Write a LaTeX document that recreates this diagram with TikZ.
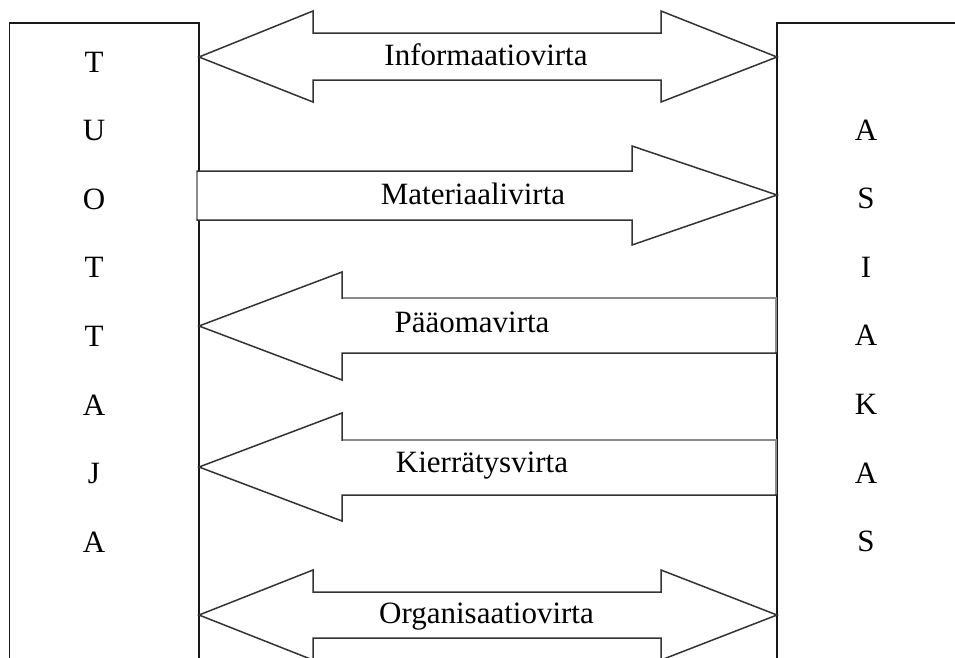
\documentclass[tikz,border=0pt]{standalone}
\usepackage{fontspec}
\setmainfont{Liberation Serif}
\begin{document}
\begin{tikzpicture}[x=1pt,y=-1pt,
  boxline/.style={draw=black!90,line width=1.6pt},
  flow/.style={draw=black!80,line width=1.5pt,line join=miter,fill=white},
  flowshade/.style={draw=black!45,line width=2pt},
  flowlabel/.style={anchor=base,inner sep=0pt,font=\fontsize{31}{37}\selectfont},
  letter/.style={anchor=base,inner sep=0pt,font=\fontsize{31}{37}\selectfont}]
\useasboundingbox (0,0) rectangle (955,657);
\clip (0,0) rectangle (955,657);
\fill[white] (0,0) rectangle (955,657);

% the two parties
\draw[boxline] (9.5,720) -- (9.5,23) -- (199,23) -- (199,720);
\draw[boxline] (777,720) -- (777,23) -- (1000,23);
\coordinate (L) at (199,0);
\coordinate (R) at (777,0);

% letters of TUOTTAJA and ASIAKAS
\foreach \ch [count=\i from 0] in {T,U,O,T,T,A,J,A}
  \node[letter] (tu\i) at (94,72+68.6*\i) {\ch};
\foreach \ch [count=\i from 0] in {A,S,I,A,K,A,S}
  \node[letter] (as\i) at (866,140+68.6*\i) {\ch};

% Informaatiovirta: two-way
\draw[flow] (L |- 0,57) -- (313,11) -- (313,33) -- (661,33) -- (661,11)
  -- (R |- 0,57) -- (661,102) -- (661,80) -- (313,80) -- (313,102) -- cycle;
\node[flowlabel] (info) at (486,65) {Informaatiovirta};

% Materiaalivirta: to the customer
\draw[flow] (197,171) -- (632,171) -- (632,146) -- (R |- 0,195)
  -- (632,245) -- (632,220) -- (197,220) -- cycle;
\draw[flowshade] (197,172) -- (197,219);
\node[flowlabel] (mat) at (473,204) {Materiaalivirta};

% Pääomavirta: to the producer
\draw[flow] (L |- 0,326) -- (342,272) -- (342,298) -- (776,298)
  -- (776,353) -- (342,353) -- (342,380) -- cycle;
\draw[flowshade] (343,298) -- (776,298) -- (776,352);
\node[flowlabel] (paa) at (472,332) {Pääomavirta};

% Kierrätysvirta: to the producer
\draw[flow] (L |- 0,467) -- (342,413) -- (342,440) -- (776,440)
  -- (776,495) -- (342,495) -- (342,521) -- cycle;
\draw[flowshade] (343,440) -- (776,440) -- (776,494);
\node[flowlabel] (kie) at (482,472) {Kierrätysvirta};

% Organisaatiovirta: two-way
\draw[flow] (L |- 0,615) -- (313,570) -- (313,592) -- (661,592) -- (661,570)
  -- (R |- 0,615) -- (661,660) -- (661,638) -- (313,638) -- (313,660) -- cycle;
\node[flowlabel] (org) at (486.5,623) {Organisaatiovirta};
\end{tikzpicture}
\end{document}
